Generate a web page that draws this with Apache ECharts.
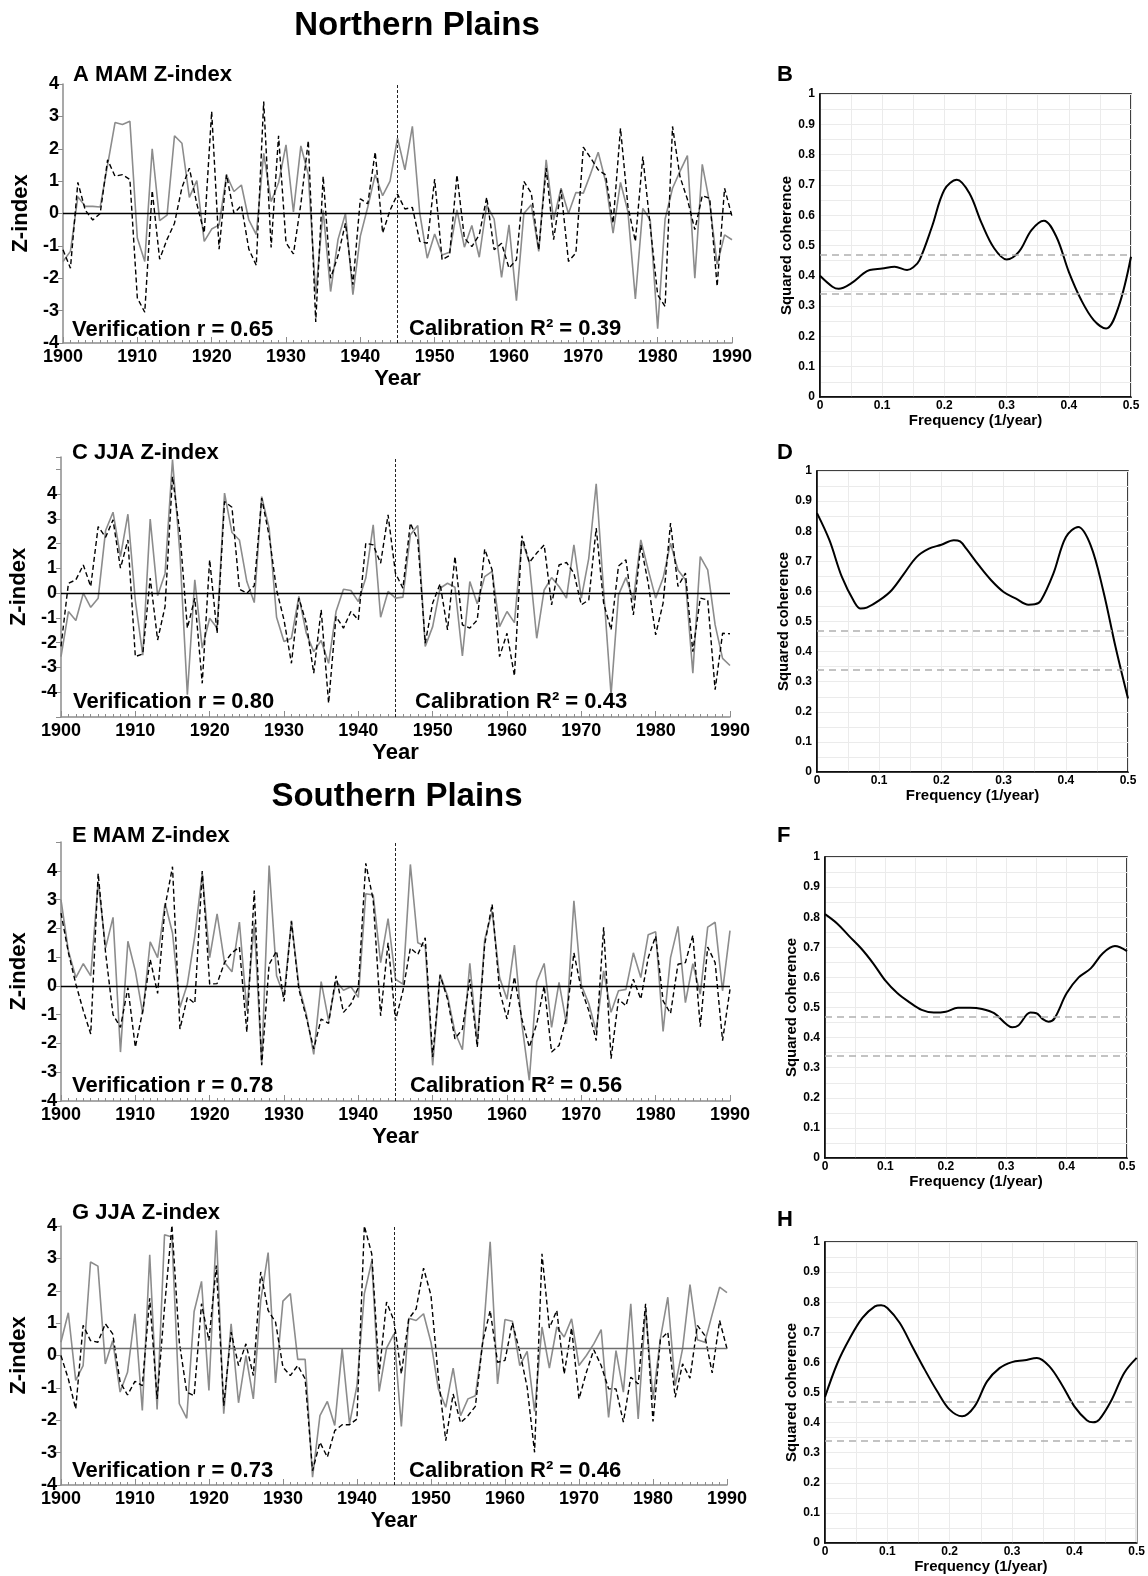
<!DOCTYPE html>
<html>
<head>
<meta charset="utf-8">
<title>Z-index reconstructions and coherence</title>
<script src="https://cdn.jsdelivr.net/npm/echarts@6/dist/echarts.min.js"></script>
<style>
  html, body { margin: 0; padding: 0; background: #fff; }
  #chart { width: 1148px; height: 1576px; }
</style>
</head>
<body>
<div id="chart"></div>
<script>
// years on the x axis
var years = [];
for (var y = 1900; y <= 1990; y++) years.push(y);

// Northern Plains MAM: observed (grey) and reconstructed (dashed)
var nMamObs = [-1.48,-1.17,0.52,0.22,0.22,0.2,1.5,2.81,2.75,2.85,
  -0.76,-1.48,2.0,-0.22,-0.05,2.4,2.17,0.5,1.02,-0.86,
  -0.48,-0.35,1.19,0.68,0.88,-0.2,-0.65,1.86,0.37,0.95,
  2.12,0.05,2.09,1.2,-2.5,0.1,-2.41,-0.8,0.0,-2.51,
  -0.7,0.2,1.2,0.55,1.0,2.33,1.35,2.69,0.0,-1.38,
  -0.63,-1.28,-1.2,0.11,-1.04,-0.37,-1.35,0.27,-0.17,-1.97,
  -0.35,-2.69,0.0,0.27,-1.17,1.66,-0.2,0.78,0.0,0.65,
  0.63,1.24,1.89,0.99,-0.61,0.96,0.06,-2.64,0.16,-0.2,
  -3.56,-0.17,0.78,1.3,1.79,-2.0,1.52,0.32,-1.58,-0.66,-0.81];
var nMamRec = [-1.12,-1.69,0.96,0.1,-0.2,0.0,1.66,1.15,1.2,1.05,
  -2.61,-3.05,0.71,-1.41,-0.8,-0.3,0.8,1.4,0.3,-0.6,
  3.15,-1.1,1.2,0.0,0.25,-1.1,-1.6,3.46,-1.05,2.4,
  -0.9,-1.25,0.3,2.25,-3.35,1.15,-2.0,-1.3,-0.3,-2.2,
  0.45,0.3,1.9,-0.6,0.1,0.6,0.14,0.19,-0.86,-0.92,
  1.06,-1.43,-1.3,1.19,-0.76,-1.02,-0.66,0.5,-1.12,-0.92,
  -1.69,-1.43,0.99,0.63,-1.12,1.4,-0.81,0.73,-1.48,-1.22,
  2.05,1.71,1.35,1.19,-0.3,2.63,0.22,-0.86,1.76,-0.4,
  -2.51,-2.87,2.69,1.14,0.44,-0.5,0.55,0.47,-2.25,0.78,-0.09];

// Northern Plains JJA
var nJjaObs = [-2.56,-0.74,-1.1,0.0,-0.57,-0.2,2.53,3.27,1.48,3.19,
  -0.3,-2.5,2.99,-0.1,0.8,5.4,1.6,-4.1,0.54,-2.22,
  -1.01,-1.41,4.04,2.45,2.15,0.47,-0.38,3.9,2.63,-0.97,
  -1.95,-1.82,-0.13,-1.62,-2.36,-1.91,-2.83,-0.74,0.16,0.11,
  -0.34,0.61,2.76,-0.97,0.07,-0.2,-0.16,2.36,2.73,-2.15,
  -1.35,0.2,0.4,0.24,-2.53,0.47,-0.43,0.67,0.88,-1.35,
  -0.74,-1.19,2.15,1.24,-1.82,0.13,0.63,0.27,-0.2,1.95,
  -0.2,1.41,4.42,0.1,-4.1,-0.07,0.63,-0.27,2.15,0.94,
  -0.2,0.61,2.02,0.94,0.54,-3.23,1.48,0.94,-1.28,-2.63,-2.92];
var nJjaRec = [-2.15,0.4,0.54,1.14,0.27,2.69,2.26,2.96,1.01,2.15,
  -2.56,-2.45,0.61,-1.89,-0.54,4.71,2.42,-1.41,-0.2,-3.64,
  1.35,-1.62,3.7,3.47,0.16,0.0,0.3,3.84,2.32,0.13,
  -1.08,-2.83,-0.2,-1.21,-3.23,-0.67,-4.44,-0.94,-1.41,-0.74,
  -1.08,2.02,1.95,1.21,3.16,0.8,0.2,2.83,2.15,-2.02,
  -0.4,0.38,-1.48,1.48,-1.28,-1.41,-1.08,1.78,0.94,-2.56,
  -1.62,-3.34,2.32,1.24,1.62,1.95,-0.47,1.14,1.24,0.81,
  -0.47,-0.27,2.63,-0.4,-1.48,1.1,1.35,-0.88,1.95,0.4,
  -1.68,-0.4,2.83,0.27,0.81,-2.36,-0.2,-0.27,-3.9,-1.62,-1.64];

// Southern Plains MAM
var sMamObs = [2.99,1.21,0.29,0.77,0.35,3.62,1.32,2.38,-2.3,1.55,
  0.52,-0.96,1.53,0.98,2.88,1.84,-0.75,0.06,1.73,3.91,
  0.98,2.5,0.81,0.49,2.22,-0.86,2.19,-2.7,4.18,0.35,
  -0.35,2.27,0.0,-0.98,-2.38,0.15,-1.21,0.17,-0.15,-0.03,
  -0.4,3.2,3.16,0.81,2.34,0.23,0.06,4.22,1.5,1.38,
  -2.76,0.4,-0.35,-1.61,-2.22,0.78,-2.01,1.61,2.59,0.29,
  -0.46,1.42,-1.32,-3.28,0.15,0.78,-1.44,0.12,-1.32,2.96,
  0.03,-0.61,-1.58,0.52,-0.92,-0.17,-0.12,1.15,0.29,1.78,
  1.88,-1.58,0.98,2.07,-0.58,0.77,-0.29,2.04,2.21,-0.17,1.92];
var sMamRec = [2.53,1.15,0.06,-0.86,-1.67,3.91,1.15,-1.0,-1.44,-0.06,
  -2.13,-0.86,0.92,-0.26,2.76,4.14,-1.5,-0.4,-0.61,3.99,
  0.06,0.08,0.81,1.15,1.35,-1.61,3.31,-2.76,0.75,1.21,
  -0.54,2.24,-0.12,-1.09,-2.19,-1.15,-1.3,0.35,-0.92,-0.63,
  -0.06,4.26,2.99,-1.04,1.5,-1.21,-0.17,1.32,1.09,1.67,
  -2.47,0.37,-0.46,-1.84,-1.5,0.23,-2.13,1.44,2.84,-0.17,
  -1.15,0.31,-1.15,-2.13,-1.32,0.0,-2.3,-2.07,-1.09,1.15,
  -0.12,-0.86,-1.9,2.04,-2.53,-0.46,-0.69,0.23,-0.46,0.98,
  1.73,-0.52,-0.96,0.75,0.81,1.76,-1.42,1.35,0.81,-1.9,-0.12];

// Southern Plains JJA
var sJjaObs = [0.41,1.32,-0.77,-0.31,2.89,2.76,-0.26,0.46,-1.13,-0.52,
  1.29,-1.7,3.11,-1.67,3.73,3.66,-1.49,-1.94,1.36,2.29,
  -1.08,3.87,-1.8,0.98,-1.46,0.0,-1.34,1.7,3.18,-0.85,
  1.68,1.91,-0.12,-0.12,-3.76,-1.86,-1.42,-2.16,0.21,-2.11,
  -0.93,1.91,2.91,-1.11,0.23,0.67,-2.19,1.15,1.08,1.29,
  0.41,-1.03,-1.6,-0.39,-1.86,-1.34,-1.24,0.41,3.51,-0.88,
  1.11,1.06,-0.31,0.13,-1.73,0.88,-0.39,0.88,0.57,1.13,
  -0.31,0.0,0.36,0.8,-1.91,0.15,-1.13,1.6,-1.96,1.44,
  -1.34,0.52,1.8,-0.93,0.21,2.19,0.49,0.41,1.27,2.11,1.94];
var sJjaRec = [0.0,-0.72,-1.65,0.93,0.46,0.41,0.98,0.67,-0.82,-1.22,
  -0.8,-0.93,1.77,-1.34,1.49,4.02,0.41,-1.13,-1.24,1.6,
  0.46,2.78,-1.55,0.72,-0.31,0.36,-0.62,2.58,1.39,1.03,
  -0.36,-0.62,-0.31,-0.72,-3.56,-2.68,-3.14,-2.32,-2.14,-2.14,
  -1.96,4.0,3.14,-0.57,1.65,1.08,-0.57,1.13,1.44,2.7,
  1.86,-0.67,-2.63,-1.19,-2.08,-1.86,-1.57,0.43,1.39,-0.21,
  -0.15,1.01,0.12,-0.98,-2.99,3.14,0.85,1.39,-0.57,0.85,
  -1.34,-0.52,0.18,-0.31,-1.03,-1.03,-2.06,-0.67,-0.88,1.6,
  -2.04,0.49,0.72,-1.29,-0.26,-0.7,0.93,0.62,-0.54,1.08,0.21];

// squared coherence spectra (frequency, coherence)
var freqB = [0,0.02,0.03,0.05,0.07,0.08,0.10,0.12,0.14,0.15,0.16,0.18,0.20,0.22,0.24,0.26,0.28,0.30,0.32,0.34,0.36,0.38,0.40,0.42,0.44,0.46,0.48,0.50];
var cohB = [0.40,0.364,0.357,0.375,0.408,0.419,0.424,0.43,0.419,0.428,0.452,0.562,0.684,0.717,0.673,0.573,0.491,0.454,0.48,0.551,0.582,0.529,0.413,0.32,0.254,0.226,0.298,0.463];
var freqD = [0,0.02,0.04,0.06,0.07,0.08,0.10,0.12,0.14,0.16,0.18,0.20,0.22,0.23,0.24,0.26,0.28,0.30,0.32,0.34,0.35,0.36,0.38,0.40,0.42,0.44,0.46,0.48,0.50];
var cohD = [0.86,0.77,0.648,0.565,0.543,0.546,0.57,0.604,0.659,0.714,0.742,0.755,0.77,0.766,0.742,0.687,0.637,0.598,0.576,0.556,0.557,0.57,0.659,0.78,0.814,0.753,0.604,0.415,0.244];
var freqF = [0,0.02,0.04,0.06,0.08,0.10,0.12,0.14,0.16,0.18,0.20,0.22,0.24,0.26,0.28,0.30,0.31,0.32,0.34,0.35,0.36,0.37,0.38,0.40,0.42,0.44,0.46,0.48,0.50];
var cohF = [0.81,0.779,0.737,0.696,0.646,0.589,0.547,0.517,0.492,0.483,0.486,0.499,0.499,0.495,0.481,0.445,0.434,0.44,0.483,0.481,0.462,0.453,0.464,0.547,0.6,0.63,0.68,0.704,0.687];
var freqH = [0,0.02,0.04,0.06,0.08,0.09,0.10,0.12,0.14,0.16,0.18,0.20,0.22,0.24,0.26,0.28,0.30,0.32,0.34,0.36,0.38,0.40,0.42,0.43,0.44,0.46,0.48,0.50];
var cohH = [0.485,0.598,0.681,0.748,0.786,0.79,0.781,0.731,0.653,0.576,0.504,0.443,0.421,0.454,0.537,0.581,0.601,0.607,0.615,0.587,0.526,0.454,0.408,0.401,0.41,0.476,0.565,0.615];

// significance levels drawn as grey dashed lines
var cohLevels = [0.473, 0.341];
var splitYear = 1945;

var FONT = '"Liberation Sans", Arial, sans-serif';

// layout of the left (time series) panels
var zPanels = [
  { obs: nMamObs, rec: nMamRec, yMin: -4, yMax: 4, base: 0, baseColor: '#000',
    grid: { left: 63, top: 84, width: 669, height: 259 } },
  { obs: nJjaObs, rec: nJjaRec, yMin: -5, yMax: 5.5, base: 0, baseColor: '#000',
    grid: { left: 61, top: 457, width: 669, height: 260 } },
  { obs: sMamObs, rec: sMamRec, yMin: -4, yMax: 5, base: 0, baseColor: '#000',
    grid: { left: 61, top: 842, width: 669, height: 259 } },
  { obs: sJjaObs, rec: sJjaRec, yMin: -4, yMax: 4, base: 0.22, baseColor: '#6e6e6e',
    grid: { left: 59, top: 1226, width: 668, height: 259 } }
];

// layout of the right (coherence) panels
var cPanels = [
  { freq: freqB, coh: cohB, grid: { left: 820, top: 94, width: 311, height: 303 } },
  { freq: freqD, coh: cohD, grid: { left: 817, top: 471, width: 311, height: 301 } },
  { freq: freqF, coh: cohF, grid: { left: 825, top: 857, width: 302, height: 301 } },
  { freq: freqH, coh: cohH, grid: { left: 825, top: 1242, width: 312, height: 301 } }
];

// free text: headings, panel titles, statistics
var labels = [
  { t: 'Northern Plains', x: 417, y: 26, size: 33, align: 'center' },
  { t: 'Southern Plains', x: 397, y: 797, size: 33, align: 'center' },
  { t: 'A MAM Z-index', x: 73, y: 75, size: 22 },
  { t: 'Verification r = 0.65', x: 72, y: 330, size: 22 },
  { t: 'Calibration R\u00b2 = 0.39', x: 409, y: 329, size: 22 },
  { t: 'C JJA Z-index', x: 72, y: 453, size: 22 },
  { t: 'Verification r = 0.80', x: 73, y: 702, size: 22 },
  { t: 'Calibration R\u00b2 = 0.43', x: 415, y: 702, size: 22 },
  { t: 'E MAM Z-index', x: 72, y: 836, size: 22 },
  { t: 'Verification r = 0.78', x: 72, y: 1086, size: 22 },
  { t: 'Calibration R\u00b2 = 0.56', x: 410, y: 1086, size: 22 },
  { t: 'G JJA Z-index', x: 72, y: 1213, size: 22 },
  { t: 'Verification r = 0.73', x: 72, y: 1471, size: 22 },
  { t: 'Calibration R\u00b2 = 0.46', x: 409, y: 1471, size: 22 },
  { t: 'B', x: 777, y: 75, size: 22 },
  { t: 'D', x: 777, y: 453, size: 22 },
  { t: 'F', x: 777, y: 836, size: 22 },
  { t: 'H', x: 777, y: 1220, size: 22 }
];

function pairs(xs, vs) {
  var out = [];
  for (var i = 0; i < vs.length; i++) out.push([xs[i], vs[i]]);
  return out;
}

function cohLabel(v) {
  var k = Math.round(v * 100);
  return k % 10 === 0 ? String(k / 100) : '';
}

var grids = [], xAxes = [], yAxes = [], series = [];

zPanels.forEach(function (p, i) {
  grids.push(p.grid);
  xAxes.push({
    gridIndex: i, type: 'value', min: 1900, max: 1990, interval: 10,
    name: 'Year', nameLocation: 'middle', nameGap: 25,
    nameTextStyle: { fontFamily: FONT, fontWeight: 'bold', fontSize: 22, color: '#000' },
    axisLine: { onZero: false, lineStyle: { color: '#8c8c8c', width: 1.5 } },
    axisTick: { inside: true, length: 6, lineStyle: { color: '#8c8c8c' } },
    minorTick: { show: true, splitNumber: 10, length: 3, lineStyle: { color: '#8c8c8c' } },
    splitLine: { show: false },
    axisLabel: {
      fontFamily: FONT, fontWeight: 'bold', fontSize: 18, color: '#000', margin: 5,
      formatter: function (v) { return String(v); }
    }
  });
  yAxes.push({
    gridIndex: i, type: 'value', min: p.yMin, max: p.yMax, interval: 1,
    name: 'Z-index', nameLocation: 'middle', nameGap: 29, nameRotate: 90,
    nameTextStyle: { fontFamily: FONT, fontWeight: 'bold', fontSize: 22, color: '#000' },
    axisLine: { show: true, onZero: false, lineStyle: { color: '#8c8c8c', width: 1.5 } },
    axisTick: { show: true, length: 5, lineStyle: { color: '#8c8c8c' } },
    splitLine: { show: false },
    axisLabel: {
      fontFamily: FONT, fontWeight: 'bold', fontSize: 18, color: '#000', margin: 4,
      formatter: function (v) { return (v >= -4 && v <= 4 && v === Math.round(v)) ? String(v) : ''; }
    }
  });
  series.push({
    type: 'line', xAxisIndex: i, yAxisIndex: i, data: pairs(years, p.obs),
    symbol: 'none', lineStyle: { color: '#8c8c8c', width: 1.6 }, z: 2,
    markLine: {
      silent: true, symbol: ['none', 'none'], label: { show: false },
      lineStyle: { color: p.baseColor, width: 1.3, type: 'solid' },
      data: [{ yAxis: p.base }]
    }
  });
  series.push({
    type: 'line', xAxisIndex: i, yAxisIndex: i, data: pairs(years, p.rec),
    symbol: 'none', lineStyle: { color: '#000', width: 1.4, type: [5, 3] }, z: 3,
    markLine: {
      silent: true, symbol: ['none', 'none'], label: { show: false },
      lineStyle: { color: '#222', width: 1, type: [3, 2] },
      data: [{ xAxis: splitYear }]
    }
  });
});

cPanels.forEach(function (p, j) {
  var i = zPanels.length + j;
  var g = Object.assign({ show: true, borderColor: '#000', borderWidth: 1.5, backgroundColor: 'transparent' }, p.grid);
  grids.push(g);
  xAxes.push({
    gridIndex: i, type: 'value', min: 0, max: 0.5, interval: 0.05,
    name: 'Frequency (1/year)', nameLocation: 'middle', nameGap: 16,
    nameTextStyle: { fontFamily: FONT, fontWeight: 'bold', fontSize: 15, color: '#000' },
    axisLine: { onZero: false, lineStyle: { color: '#000', width: 1.5 } },
    axisTick: { show: false },
    splitLine: { show: true, lineStyle: { color: '#ebebeb', width: 1 } },
    axisLabel: { fontFamily: FONT, fontWeight: 'bold', fontSize: 12, color: '#000', margin: 3, formatter: cohLabel }
  });
  yAxes.push({
    gridIndex: i, type: 'value', min: 0, max: 1, interval: 0.05,
    name: 'Squared coherence', nameLocation: 'middle', nameGap: 26, nameRotate: 90,
    nameTextStyle: { fontFamily: FONT, fontWeight: 'bold', fontSize: 15, color: '#000' },
    axisLine: { show: true, onZero: false, lineStyle: { color: '#000', width: 1.5 } },
    axisTick: { show: false },
    splitLine: { show: true, lineStyle: { color: '#ebebeb', width: 1 } },
    axisLabel: { fontFamily: FONT, fontWeight: 'bold', fontSize: 12, color: '#000', margin: 5, formatter: cohLabel }
  });
  series.push({
    type: 'line', xAxisIndex: i, yAxisIndex: i, data: pairs(p.freq, p.coh),
    smooth: 0.35, symbol: 'none', lineStyle: { color: '#000', width: 2 }, z: 3,
    markLine: {
      silent: true, symbol: ['none', 'none'], label: { show: false },
      lineStyle: { color: '#b0b0b0', width: 1.5, type: [7, 5] },
      data: cohLevels.map(function (v) { return { yAxis: v }; })
    }
  });
});

var graphics = labels.map(function (l) {
  return {
    type: 'text', x: l.x, y: l.y, z: 10,
    style: {
      text: l.t, fill: '#000', font: 'bold ' + l.size + 'px ' + FONT,
      textAlign: l.align || 'left', textVerticalAlign: 'middle'
    }
  };
});

var chart = echarts.init(document.getElementById('chart'), null, { renderer: 'canvas', width: 1148, height: 1576 });
chart.setOption({
  animation: false,
  backgroundColor: '#fff',
  grid: grids,
  xAxis: xAxes,
  yAxis: yAxes,
  series: series,
  graphic: graphics
});
</script>
</body>
</html>
